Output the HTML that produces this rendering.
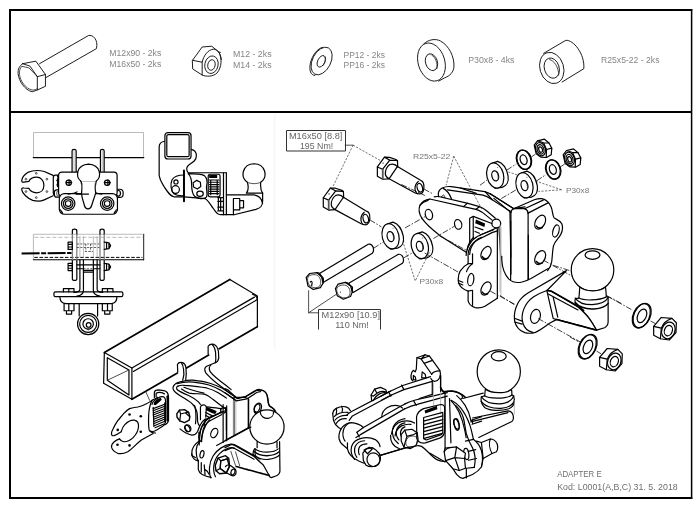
<!DOCTYPE html>
<html><head><meta charset="utf-8"><title>Adapter E</title>
<style>
html,body{margin:0;padding:0;background:#fff;}
body{width:700px;height:508px;overflow:hidden;font-family:"Liberation Sans",sans-serif;}
svg{display:block;position:absolute;left:0;top:0;filter:grayscale(1);}
svg *{vector-effect:non-scaling-stroke;}
.l{fill:none;stroke:#000;stroke-width:1.2;stroke-linecap:round;stroke-linejoin:round;}
.t{fill:none;stroke:#222;stroke-width:.8;stroke-linecap:round;stroke-linejoin:round;}
.w{fill:#fff;stroke:#000;stroke-width:1.2;stroke-linecap:round;stroke-linejoin:round;}
.wt{fill:#fff;stroke:#222;stroke-width:.7;stroke-linejoin:round;}
.d{fill:none;stroke:#222;stroke-width:.7;stroke-dasharray:2.2 1.2;}
.a{fill:none;stroke:#111;stroke-width:.8;stroke-dasharray:6 1.6 1.6 1.6;stroke-linecap:butt;}
.dt{fill:none;stroke:#333;stroke-width:.7;stroke-dasharray:2.2 1.4;stroke-linecap:butt;}
.g{fill:none;stroke:#aaa;stroke-width:.8;}
.k{fill:#000;stroke:none;}
circle,ellipse,rect{stroke-linecap:butt !important;stroke-linejoin:miter !important;}
#topbolt .l,#topnut .l,#topwasher .l,#topthick .l,#topspacer .l{stroke-width:.95;stroke:#111;}
text{font-family:"Liberation Sans",sans-serif;fill:#858585;stroke:none;}
#labels2 text{fill:#666;}#labels3 text{fill:#777;}#labels4 text{fill:#6e6e6e;}
</style></head><body>
<svg width="700" height="508" viewBox="0 0 700 508">
<g id="frame">
<path d="M692.3,10 L10,10 L10,498 L692.3,498" fill="none" stroke="#000" stroke-width="2" stroke-linejoin="miter"/>
<line x1="691.6" y1="9" x2="691.6" y2="499" stroke="#000" stroke-width="1.5"/>
<line x1="10" y1="112" x2="691.6" y2="112" stroke="#000" stroke-width="2"/>
<line id="faint" x1="274.8" y1="114" x2="274.8" y2="350" stroke="#f3f3f3" stroke-width="1"/>
</g>

<g id="topbolt" transform="translate(10,25) scale(0.14771)">
<path class="l" d="M200,262 L530,72 C560,62 600,100 585,160 L245,355"/>
<path class="l" d="M85,262 L175,245 L240,335 L240,415 L185,440 L185,350 L240,335"/>
<path class="l" d="M85,262 C65,275 52,300 55,330 C60,380 100,440 150,452 L185,440"/>
<path class="l" d="M85,262 L135,278 L185,350"/>
<path class="t" d="M80,280 C68,290 62,310 64,335 C70,380 105,430 150,440 C165,442 178,436 185,430"/>
<path class="t" d="M80,280 L128,290 L185,350"/>
</g>

<g id="topnut" transform="translate(180,30) scale(0.14771)">
<path class="l" d="M85,205 L150,115 L215,110 L262,148 C285,190 285,250 250,292 C225,315 180,318 150,305 L88,265 Z"/>
<path class="l" d="M85,205 L150,218 L150,305"/>
<path class="l" d="M150,218 C160,170 190,135 225,130 C255,130 275,160 280,200"/>
<ellipse class="l" cx="213" cy="235" rx="45" ry="60" transform="rotate(12 213 235)"/>
<ellipse class="l" cx="213" cy="237" rx="25" ry="36" transform="rotate(12 213 237)"/>
<path class="t" d="M262,148 L275,152"/>
</g>

<g id="topwasher" transform="translate(290,30) scale(0.14771)">
<ellipse class="l" cx="214" cy="210" rx="62" ry="100" transform="rotate(27 214 210)"/>
<path class="l" d="M222,117 C190,120 150,170 138,225 C128,275 140,305 168,308"/>
<ellipse class="l" cx="212" cy="212" rx="24" ry="42" transform="rotate(27 212 212)"/>
<path class="t" d="M232,180 C245,190 240,215 225,240"/>
</g>
<g id="topthick" transform="translate(400,30) scale(0.14771)">
<ellipse class="l" cx="213" cy="217" rx="90" ry="132" transform="rotate(-17 213 217)"/>
<path class="l" d="M160,95 C190,65 240,55 275,75 C330,105 370,180 365,250 C362,285 340,310 300,325 L262,346"/>
<ellipse class="l" cx="213" cy="218" rx="40" ry="58" transform="rotate(-17 213 218)"/>
<path class="t" d="M215,170 C240,185 255,220 250,262"/>
</g>
<g id="topspacer" transform="translate(520,30) scale(0.14771)">
<ellipse class="l" cx="215" cy="257" rx="80" ry="108" transform="rotate(-17 215 257)"/>
<path class="l" d="M160,158 L310,70 C360,65 440,160 432,262 L285,352"/>
<ellipse class="l" cx="215" cy="258" rx="50" ry="70" transform="rotate(-17 215 258)"/>
<path class="t" d="M200,200 C230,205 262,250 262,305"/>
</g>

<g id="topview">
<!-- beam -->
<path class="g" d="M33.5,157.6 L33.5,132.5 L143.5,132.5 L143.5,157.6"/>
<path class="l" d="M33.3,157.6 L143.8,157.6"/>
<g transform="translate(15,160) scale(0.17725)">
<!-- pins -->
<path class="w" d="M322,70 L322,-52 C322,-63 345,-63 345,-52 L345,70"/>
<path class="g" d="M333,-55 L333,70"/>
<path class="w" d="M482,70 L482,-52 C482,-63 503,-63 503,-52 L503,70"/>
<path class="g" d="M492,-55 L492,70"/>
<!-- socket plate -->
<path class="w" d="M215,87 L165,65 C140,58 100,58 72,70 C52,82 40,100 38,115 C37,124 42,126 50,125 L78,121 C85,105 100,97 122,97 C145,97 163,115 163,142 C163,170 145,185 122,185 C100,185 85,175 78,160 L50,158 C42,157 37,160 38,168 C42,190 70,215 100,228 C125,235 150,232 165,225 L215,202"/>
<circle class="t" cx="120" cy="75" r="5"/><circle class="t" cx="62" cy="108" r="5"/><circle class="t" cx="180" cy="108" r="5"/>
<circle class="t" cx="62" cy="178" r="5"/><circle class="t" cx="180" cy="178" r="5"/><circle class="t" cx="120" cy="212" r="5"/>
<!-- left bracket -->
<path class="w" d="M245,85 L228,85 C220,85 216,92 216,100 L216,185 C216,195 222,200 230,200 L245,200"/>
<path class="k" d="M236,88 L262,76 L262,84 L246,100 L238,100 Z"/>
<path class="l" d="M240,105 L240,150 M236,115 L244,115 M236,140 L244,140"/>
<!-- ears -->
<rect class="w" x="222" y="168" width="36" height="42" rx="14"/>
<rect class="t" x="236" y="176" width="16" height="26" rx="5"/>
<rect class="w" x="562" y="165" width="48" height="46" rx="18"/>
<ellipse class="l" cx="583" cy="188" rx="12" ry="16"/>
<!-- top plate -->
<rect class="w" x="246" y="68" width="330" height="135" rx="18"/>
<!-- lower plate -->
<rect class="w" x="250" y="190" width="328" height="116" rx="28"/>
<path class="l" d="M256,282 L268,298 M572,282 L560,298"/>
<!-- bolts -->
<circle class="l" cx="300" cy="246" r="38"/><circle class="l" cx="300" cy="246" r="27"/><circle class="l" cx="300" cy="246" r="16"/>
<circle class="l" cx="520" cy="246" r="38"/><circle class="l" cx="520" cy="246" r="27"/><circle class="l" cx="520" cy="246" r="16"/>
<!-- cross marks -->
<circle class="l" cx="303" cy="128" r="15"/><path class="l" d="M288,128 L320,128 M305,112 L305,144"/>
<circle class="l" cx="520" cy="128" r="15"/><path class="l" d="M504,128 L538,128 M524,112 L524,144"/>
<!-- ball + tongue -->
<path class="w" d="M372,120 C340,95 345,27 415,23 C485,27 490,95 458,120 C450,122 380,122 372,120 Z"/>
<path class="w" d="M372,120 C380,140 380,160 376,180 C372,200 385,230 392,258 C398,280 425,282 432,258 C440,230 452,200 455,185 C450,160 452,140 458,120"/>
<path class="l" d="M345,192 L415,192 M300,192 C320,190 340,188 350,180 M455,185 C470,190 480,192 490,192"/>
<path class="g" d="M380,130 L380,175 M450,130 L450,175"/>
</g>
</g>

<g id="sideview" transform="translate(150,125) scale(0.1909)">
<!-- bracket outline -->
<path class="l" d="M78,85 C55,88 48,98 48,115 L48,265 C52,290 60,300 75,325 C95,355 105,372 125,376 L178,376"/>
<path class="l" d="M215,128 C235,132 243,142 243,160 C243,185 225,195 205,208 C190,218 188,235 200,250 L400,250"/>
<!-- tube -->
<rect class="w" x="78" y="40" width="137" height="138" rx="16"/>
<rect class="l" x="88" y="50" width="117" height="116" rx="8"/>
<!-- left lobe -->
<path class="l" d="M178,262 C150,262 125,270 115,288 C105,310 110,345 125,360 C140,370 160,372 178,370"/>
<circle class="l" cx="136" cy="298" r="11"/><circle class="l" cx="134" cy="338" r="20"/>
<path class="l" d="M178,238 L178,400" style="stroke-width:2"/>
<!-- plate -->
<path class="l" d="M200,255 C240,255 270,258 285,265 C300,280 302,300 296,320 C294,345 305,365 295,378 C280,392 250,385 235,375 C222,362 218,340 218,310 C218,290 215,270 200,255"/>
<path class="l" d="M245,290 L264,300 L266,322 L248,335 L228,325 L226,302 Z"/>
<ellipse class="l" cx="262" cy="360" rx="17" ry="14"/>
<!-- grill -->
<rect class="l" x="305" y="258" width="62" height="118" rx="10"/>
<rect class="k" x="310" y="262" width="42" height="16" rx="3"/>
<path class="l" d="M312,288 L360,288 M312,300 L360,300 M312,312 L360,312 M312,324 L360,324 M312,336 L360,336 M312,348 L360,348 M312,360 L360,360 M318,288 L318,365 M352,288 L352,365"/>
<!-- verticals -->
<path class="l" d="M385,250 L385,470 M400,250 L400,470"/>
<path class="l" d="M355,380 L385,380 M355,400 L385,400 M355,430 L385,430 M355,450 L385,450 M358,380 L358,450 M370,380 L370,450"/>
<!-- lower -->
<path class="l" d="M178,376 L290,386 C305,395 315,415 330,435 C345,458 352,468 368,470 L440,470 L555,442 C580,435 590,425 590,400 L590,355"/>
<path class="l" d="M400,366 L545,366 C570,370 585,385 590,410"/>
<path class="l" d="M437,385 L470,385 L470,445 L437,445 Z M470,396 L490,396 L490,434 L470,434 M437,385 L437,470"/>
<!-- ball -->
<path class="w" d="M510,300 C470,270 485,205 545,203 C605,205 620,270 580,300 C578,320 578,340 590,357 L505,357 C518,340 516,320 510,300 Z"/>
<path class="t" d="M510,300 C530,310 560,310 580,300"/>
</g>

<g id="frontview" transform="translate(15,222) scale(0.23601)">
<!-- beam -->
<path class="g" d="M78,160 L78,52 L545,52"/>
<path class="g" d="M82,65 L545,65" style="stroke-dasharray:4 2;stroke-linecap:butt"/>
<path class="l" d="M545,52 L545,160" style="stroke:#444"/>
<path class="l" d="M78,160 L545,160"/>
<path class="l" d="M82,150 L540,150" style="stroke-dasharray:3.5 1.6;stroke-linecap:butt;stroke-width:1"/>
<path class="l" d="M28,133 L240,131" style="stroke-width:2;stroke-dasharray:18 1.5 5 1.5;stroke-linecap:butt"/>
<!-- vertical plates -->
<path class="l" d="M243,52 L243,38 C243,28 262,28 262,38 L262,52 M243,160 L243,240 C243,250 262,250 262,240 L262,160"/><path class="l" d="M243,52 L243,160 M262,52 L262,160" style="stroke:#777"/>
<path class="l" d="M360,52 L360,38 C360,28 378,28 378,38 L378,52 M360,160 L360,240 C360,250 378,250 378,240 L378,160"/><path class="l" d="M360,52 L360,160 M378,52 L378,160" style="stroke:#777"/>
<!-- upper bolt -->
<path class="l" d="M225,85 L243,85 L243,116 L225,116 Z M225,95 L243,95 M225,106 L243,106"/>
<path class="l" d="M378,85 L398,88 L405,100 L398,113 L378,116 M398,88 L398,113 M388,86 L388,115"/>
<path class="d" d="M262,93 L360,93 M262,108 L360,108"/>
<path class="g" d="M275,60 L275,150 M290,60 L290,150 M332,60 L332,150 M348,60 L348,150"/>
<path class="d" d="M300,93 L300,125 M320,93 L320,125 M296,125 L330,125"/>
<!-- lower bolt -->
<path class="l" d="M225,175 L243,175 L243,206 L225,206 Z M225,185 L243,185 M225,196 L243,196"/>
<path class="l" d="M378,175 L398,178 L405,190 L398,203 L378,206 M398,178 L398,203 M388,176 L388,205"/>
<path class="l" d="M262,182 L360,182 M262,198 L290,198 M332,198 L360,198"/>
<path class="d" d="M290,198 L332,198"/>
<!-- columns -->
<path class="l" d="M275,160 L275,285 C275,295 265,298 250,298 M290,160 L290,290 C290,305 275,312 262,314"/>
<path class="l" d="M348,160 L348,285 C348,295 358,298 372,298 M332,160 L332,290 C332,305 348,312 360,314"/>
<path class="l" d="M290,205 L332,205 M290,212 L332,212"/>
<!-- flange -->
<rect class="l" x="165" y="296" width="292" height="20" rx="6"/>
<path class="l" d="M205,296 L205,282 L250,282 L250,296 M228,282 L228,296 M370,296 L370,282 L415,282 L415,296 M392,282 L392,296"/>
<path class="l" d="M190,316 C190,335 200,345 215,346 L408,346 C425,345 432,335 432,316"/>
<path class="l" d="M208,346 L208,376 L250,376 L250,346 M228,346 L228,376 M218,376 L218,390 L240,390 L240,376"/>
<path class="l" d="M370,346 L370,376 L412,376 L412,346 M392,346 L392,376 M380,376 L380,390 L402,390 L402,376"/>
<!-- neck + ball -->
<path class="l" d="M272,346 L272,398 M350,346 L350,398"/>
<circle class="w" cx="310" cy="432" r="45"/><circle class="l" cx="310" cy="432" r="36"/><circle class="l" cx="310" cy="432" r="22"/><circle class="l" cx="312" cy="436" r="10"/>
<circle class="t" cx="310" cy="455" r="3"/>
</g>

<g id="iso">
<!-- A: tube -->
<g transform="translate(95,275) scale(0.24602)">
<path class="l" d="M38,315 L548,18" style="stroke-width:1.7"/><path class="l" d="M548,18 L660,85 L660,210"/>
<path class="l" d="M38,315 L150,378 L150,505 L35,440 Z"/>
<path class="l" d="M50,336 L138,386 L138,488 L50,428 Z"/>
<path class="l" d="M150,378 L648,90 M156,392 L660,100"/>
<path class="t" d="M50,428 L138,386"/>
<path class="l" d="M660,210 L505,300 M462,325 L372,378 M335,398 L150,505" style="stroke-width:1.7"/>
<path class="l" d="M640,78 C652,82 660,88 660,100"/>
</g>
<!-- hooks (V8b) -->
<g transform="translate(165,335) scale(0.11817)">
<path class="l" d="M365,160 L365,95 C375,80 395,75 415,80 C435,88 448,110 452,140 L455,195 C452,215 445,228 425,235 L352,265 C335,275 332,295 345,320 C370,350 420,395 480,440 C510,462 540,485 560,500"/>
<path class="l" d="M400,82 C415,95 425,120 428,150 L430,200 C430,215 428,225 425,235"/>
<path class="l" d="M388,255 C372,268 370,285 382,310 C400,335 450,378 520,430 L560,462"/>
<path class="l" d="M108,312 L105,250 C112,235 130,230 148,234 C165,240 175,255 177,275 L180,330 L175,382"/>
<path class="l" d="M140,238 C150,250 155,270 157,290 L160,335 L150,382"/>
</g>
<!-- loop (V8) -->
<g transform="translate(165,370) scale(0.11817)">
<path class="l" d="M150,95 C180,88 210,85 235,86 C290,92 340,100 380,112 C420,125 455,140 485,155 C520,175 560,205 610,242 L677,228"/>
<path class="l" d="M100,116 C140,104 200,98 240,102 C290,108 335,116 372,127 C410,140 440,155 465,168 C500,188 550,222 600,258"/>
<path class="l" d="M110,136 C125,130 145,128 165,130 C230,135 300,142 352,152 C390,162 420,175 442,188 C470,205 495,220 520,238"/>
<path class="l" d="M150,95 C120,100 98,108 85,120 C68,135 62,150 72,170 C82,190 110,208 142,226 C175,245 200,260 222,278 C245,298 262,325 270,355 C278,385 272,420 278,445 C282,460 286,468 292,472"/>
<path class="l" d="M110,136 C98,142 95,152 102,165 C115,180 150,195 200,216 C235,232 262,250 285,272 L300,292"/>
<path class="l" d="M140,160 C165,178 185,190 205,195 C250,202 300,200 340,206 C365,215 385,232 405,248 L500,322"/>
<path class="l" d="M160,146 C200,162 260,180 330,196"/>
<path class="l" d="M250,300 C262,330 262,370 262,410 L258,455"/>
<!-- box -->
<path class="l" d="M300,420 L300,312 C305,300 320,292 335,296 C345,300 350,310 350,318 L345,400"/>
<path class="l" d="M350,312 C400,318 450,322 488,328 C505,332 518,345 520,362 L520,508"/>
<path class="l" d="M340,420 L488,356 M340,420 L330,470 M470,330 C470,345 478,355 490,356"/>
<path class="k" d="M352,312 L420,340 L438,352 L425,372 L400,365 L345,338 Z"/>
<path class="l" d="M345,360 L400,388 M345,385 L370,398"/>
<!-- hex bolt -->
<path class="w" d="M100,372 L122,340 L165,335 L200,358 L210,395 L205,425 L165,445 L125,430 L102,400 Z" style="stroke-width:1.4"/>
<path class="l" d="M122,340 L132,372 L125,430 M132,372 L172,362 L200,358 M172,362 L210,395"/>
<!-- hole below -->
<ellipse class="l" cx="195" cy="492" rx="22" ry="30" transform="rotate(-30 195 492)"/>
</g>
<!-- C: vertical plate etc -->
<g transform="translate(170,340) scale(0.1909)">
<path class="l" d="M335,300 L335,500 M335,300 L392,300 L410,308 L410,462"/>
<path class="g" d="M345,305 L345,500"/>
<path class="l" d="M392,300 L450,266 C470,260 495,262 505,280 C515,300 510,335 520,345 C535,352 545,360 548,372"/>
<ellipse class="l" cx="456" cy="356" rx="14" ry="22" transform="rotate(20 456 356)"/>
<path class="l" d="M445,375 C455,385 470,385 480,370"/>
</g>
<g transform="translate(190,385) scale(0.1181)">
<circle class="w" cx="282" cy="215" r="22"/>
<path class="l" d="M262,230 L150,290 C125,305 105,335 95,365 C85,400 80,450 78,508"/>
<path class="l" d="M270,250 L165,305 C140,320 122,345 112,375 C104,405 100,440 98,480"/>
</g>
</g>

<g id="iso_socket" transform="translate(100,385) scale(0.11817)">
<!-- plate outline -->
<path class="l" d="M490,105 C470,115 455,122 440,130 C420,145 400,155 380,165 C360,175 340,182 320,186 C295,190 270,192 250,200 C230,212 215,225 200,242 C180,265 165,285 150,302 C135,325 120,350 110,372 C100,390 95,402 97,415 C100,428 108,432 120,428 C135,422 165,405 180,395"/>
<path class="l" d="M180,395 C185,370 195,350 210,335 C235,310 265,295 290,298 C315,302 328,325 326,355 C322,390 305,420 280,445 C255,468 225,482 200,480 C185,478 172,468 165,456"/>
<path class="l" d="M165,456 C145,462 130,472 118,482 C100,498 95,512 98,528 C105,550 125,568 150,578 C175,585 205,580 235,565 C262,548 285,525 305,505 C320,490 335,478 350,466 L450,411"/>
<path class="l" d="M440,130 C425,160 415,200 412,250 C410,300 410,350 416,380 C425,398 445,405 470,406"/>
<circle class="k" cx="250" cy="250" r="11"/><circle class="k" cx="345" cy="265" r="11"/>
<circle class="k" cx="150" cy="380" r="11"/><circle class="k" cx="345" cy="395" r="11"/>
<circle class="k" cx="148" cy="506" r="11"/><circle class="k" cx="250" cy="511" r="11"/>
<!-- leader -->
<path class="t" d="M390,62 L420,130"/>
<!-- cover -->
<path class="l" d="M460,105 L460,65 C462,50 475,42 495,42 L540,48 C562,52 578,70 580,100 L580,300 C578,315 570,325 555,335"/>
<path class="l" d="M572,95 L572,300" style="stroke-width:2.2"/>
<path class="l" d="M440,165 C442,145 455,130 490,110 C510,100 535,95 545,105 C552,112 555,125 555,140 L555,310 C552,330 545,340 530,350 L480,380 C460,392 440,398 425,390"/>
<path class="l" d="M475,70 L475,100 M475,70 C490,62 520,62 545,75"/>
<path class="k" d="M455,150 C465,130 490,112 515,108 L522,125 C505,140 485,160 470,172 L455,168 Z"/>
<path class="l" d="M450,200 L548,162 M450,218 L548,180 M450,236 L548,198 M450,254 L548,216 M452,272 L548,234 M454,290 L548,252 M456,308 L548,270 M458,326 L548,288 M460,344 L548,306 M465,362 L540,330" style="stroke-width:1.1"/>
<path class="l" d="M450,190 L456,350 M548,150 L548,310"/>
</g>

<g id="iso_ball">
<g transform="translate(225,385) scale(0.11817)">
<!-- plate top right -->
<path class="l" d="M0,30 C20,35 35,45 45,60 L100,110 L170,100 L250,50 C265,40 280,36 295,38 C325,42 348,60 358,90 C365,115 365,140 370,160 C375,180 385,190 400,195 C415,200 425,210 430,225"/>
<path class="l" d="M0,66 L80,122 L95,135 L185,118 L262,68 C275,60 290,56 302,56"/>
<path class="l" d="M200,120 L200,360 L0,470"/>
<path class="g" d="M70,130 L70,425"/>
<path class="l" d="M0,190 L12,200 L12,470"/>
<ellipse class="l" cx="278" cy="197" rx="28" ry="45" transform="rotate(22 278 197)"/>
<path class="l" d="M250,225 C258,240 272,245 285,240" style="stroke-width:1.8"/>
<!-- ball -->
<circle class="w" cx="355" cy="355" r="145"/>
<path class="l" d="M298,228 C300,265 335,285 365,282 C395,278 412,255 410,232"/>
<!-- neck & collar (y+380.8) -->
<path class="l" d="M272,476 L272,530 M440,482 L440,530"/>
<path class="l" d="M255,540 C275,560 320,568 355,568 C395,566 435,555 450,540"/>
<path class="l" d="M250,565 C275,590 320,598 355,598 C395,596 440,585 456,566" style="stroke-width:1.5"/>
<path class="l" d="M255,596 C280,622 325,632 365,630 C405,626 445,612 462,592"/>
<path class="l" d="M462,480 L465,730 C462,750 450,762 435,768 L392,784 C382,782 376,775 372,766"/>
<path class="l" d="M250,540 C240,555 236,570 238,585 C250,610 280,640 320,672 C340,700 355,735 375,766" />
<path class="l" d="M255,540 L255,600" />
<!-- arm -->
<path class="l" d="M0,530 L50,506 C62,502 72,505 82,512 L250,606 L292,646"/>
<path class="l" d="M0,556 L55,532 C62,530 70,532 78,536 L246,628"/>
<path class="l" d="M95,690 L375,766" style="stroke-width:1.6;stroke-dasharray:3 .6"/>
</g>
<g transform="translate(180,420) scale(0.11817)">
<!-- main plate -->
<path class="l" d="M160,150 C165,100 180,60 198,41 C210,20 225,-5 238,-16 L343,-64 L392,-80"/>
<path class="l" d="M365,-130 L365,190 M395,-120 L395,175"/>
<path class="l" d="M250,0 C235,15 222,35 215,52 C200,80 190,110 185,140 L180,172"/>
<ellipse class="l" cx="290" cy="110" rx="27" ry="42" transform="rotate(25 290 110)"/>
<path class="l" d="M160,105 L160,180 C140,195 125,208 118,220 C105,240 98,262 100,285 C102,310 115,330 135,340 L155,346"/>
<path class="l" d="M180,172 C165,185 152,200 145,215 C135,240 135,275 140,300 C142,320 148,335 155,346"/>
<path class="l" d="M100,300 L130,318 M100,285 L100,302"/>
<ellipse class="l" cx="186" cy="290" rx="16" ry="32" transform="rotate(12 186 290)"/>
<path class="l" d="M155,346 L155,420 C160,440 172,452 188,462 C205,472 230,482 262,486"/>
<path class="l" d="M180,360 L180,440 M205,380 L212,462 M212,420 C225,425 238,440 245,458"/>
<!-- flange ring -->
<path class="l" d="M262,490 C250,470 248,430 250,400 C252,365 262,335 280,305 C295,280 318,255 345,238 C370,222 400,208 430,204 C450,202 465,208 480,218 L677,330"/>
<path class="l" d="M300,480 C285,450 282,410 288,375 C295,340 310,310 335,285 C355,265 380,248 410,238 C430,232 445,232 458,238"/>
<path class="l" d="M310,215 L600,60"/>
<!-- nut -->
<path class="w" d="M298,385 L322,322 L385,302 L412,325 L420,390 L392,448 L335,455 L305,430 Z" style="stroke-width:1.4"/>
<path class="l" d="M322,322 L345,345 L340,410 L305,430 M345,345 L400,328 M340,410 L392,448"/>
<path class="l" d="M345,345 L400,330 L418,392 L392,448 L340,410 Z" style="stroke-width:1.3"/>
<!-- stud -->
<path class="l" d="M385,395 C395,380 415,378 430,388 L462,410 C475,420 478,445 470,460 C462,472 445,475 432,468 L400,450"/>
<ellipse class="l" cx="448" cy="440" rx="16" ry="25" transform="rotate(20 448 440)"/>
<path class="t" d="M430,265 L470,385 M470,270 L505,388"/>
<!-- upper left: link plate lower part -->
<path class="l" d="M0,75 C30,100 60,120 100,128 C125,128 140,115 150,95 C160,70 165,45 185,20 C195,8 205,0 215,-8"/>
<ellipse class="l" cx="62" cy="72" rx="20" ry="30" transform="rotate(-30 62 72)"/>
</g>
</g>

<g id="expl_bolts">
<!-- label box 1 -->
<rect x="286.5" y="130.5" width="59" height="20.5" fill="none" stroke="#333" stroke-width="1"/>
<g transform="translate(280,120) scale(0.17725)">
<path class="t" d="M368,142 L412,142"/>
<path class="dt" d="M412,142 L565,228 M412,142 L300,372"/>
</g>
<!-- short bolts (G1) -->
<g transform="translate(370,150) scale(0.08863)">
<g id="sbolt">
<path class="w" d="M310,185 L575,345 C595,350 610,385 608,425 C606,465 590,492 560,496 C540,496 520,490 510,485 L215,325 Z"/>
<ellipse class="l" cx="562" cy="426" rx="30" ry="50" transform="rotate(-15 562 426)"/>
<path class="l" d="M545,355 C520,375 505,410 508,445 C510,470 520,485 535,492"/>
<path class="w" d="M83,191 L163,81 L220,83 L293,107 L310,121 L313,191 C290,160 250,155 223,164 C195,185 172,230 173,270 C175,295 185,310 215,325 L143,330 L83,295 Z"/>
<path class="l" d="M83,191 L143,217 L143,330 M143,217 L223,114 L163,81 M223,114 L295,118 L310,125"/>
<path class="l" d="M143,217 L143,330" style="stroke-width:1.6;stroke:#555"/>
<circle class="k" cx="148" cy="148" r="7"/>
</g>
<use href="#sbolt" transform="translate(-610,348)"/>
<path class="a" d="M608,440 L700,490 M-2,788 L129,868"/>
</g>
<!-- long bolts (E3) -->
<g transform="translate(300,215) scale(0.17725)">
<path class="w" d="M110,330 L385,165 C400,160 415,175 415,195 C415,205 412,212 408,216 L135,378 Z"/>
<path class="w" d="M35,352 L55,330 L95,325 L122,350 L130,385 L115,410 L75,420 L45,400 Z"/>
<path class="l" d="M95,325 L108,328 L132,358 L130,385"/>
<path class="t" d="M45,350 C55,335 85,332 100,342 C118,355 122,385 110,402 C95,415 65,412 52,395 C42,380 40,362 45,350"/>
<path class="l" d="M58,378 C62,372 70,375 68,385 L66,398"/>
<path class="w" d="M275,385 L555,222 C570,218 585,235 584,255 C584,262 582,268 578,272 L300,437 Z"/>
<path class="w" d="M200,415 L215,390 L255,380 L285,400 L295,435 L285,460 L245,475 L210,455 Z"/>
<path class="l" d="M255,380 L268,383 L296,408 L295,435"/>
<path class="t" d="M208,412 C218,395 248,390 265,400 C283,412 288,442 276,458 C262,472 232,470 218,452 C208,438 204,424 208,412"/>
<circle class="k" cx="228" cy="435" r="3"/>
<path class="a" d="M415,188 L470,152 M585,242 L640,210"/>
</g>
<!-- label box 2 + leaders (E4) -->
<path d="M318.5,329.5 L318.5,309.5 L380.5,309.5 L380.5,329.5" fill="none" stroke="#333" stroke-width="1"/>
<g transform="translate(290,280) scale(0.17725)">
<path class="t" d="M105,60 L105,185 L162,185 M105,185 L262,80"/>
</g>
</g>

<g id="expl_hw">
<defs>
<g id="thickw">
<path class="w" d="M100,205 C130,215 150,245 158,285 C164,320 150,345 125,352 L85,357 L70,215 Z"/>
<ellipse class="w" cx="86" cy="285" rx="47" ry="72" transform="rotate(-14 86 285)"/>
<ellipse class="l" cx="86" cy="287" rx="19" ry="29" transform="rotate(-14 86 287)"/>
<path class="t" d="M90,262 C100,268 105,285 102,305"/>
<circle class="k" cx="100" cy="240" r="2.5"/>
</g>
<g id="thinw">
<ellipse class="w" cx="250" cy="196" rx="40" ry="56" transform="rotate(-18 250 196)"/>
<ellipse class="l" cx="246" cy="196" rx="40" ry="56" transform="rotate(-18 246 196)"/>
<ellipse class="l" cx="246" cy="196" rx="19" ry="28" transform="rotate(-18 246 196)"/>
</g>
<g id="nutA">
<path class="w" d="M92,152 L125,108 L195,92 L240,130 L268,182 L262,248 L215,275 L160,272 L112,238 Z" style="stroke-width:1.2"/>
<path class="l" d="M125,108 L185,128 L215,195 L212,272 M215,195 L268,182 M185,128 L240,130"/>
<ellipse class="l" cx="155" cy="192" rx="48" ry="68" transform="rotate(-18 155 192)"/>
<ellipse class="l" cx="155" cy="194" rx="33" ry="48" transform="rotate(-18 155 194)"/>
<ellipse class="l" cx="156" cy="196" rx="18" ry="28" transform="rotate(-18 156 196)"/>
</g>
<g id="nutB">
<path class="w" d="M472,205 L515,155 L575,160 L600,185 L598,240 L560,282 L510,275 L472,255 Z" style="stroke-width:1.2"/>
<path class="l" d="M472,205 L515,215 L510,275 M515,215 C525,190 545,170 575,160"/>
<ellipse class="l" cx="555" cy="228" rx="37" ry="48" transform="rotate(20 555 228)"/>
<ellipse class="l" cx="555" cy="229" rx="22" ry="30" transform="rotate(20 555 229)"/>
</g>
<g id="thinw2">
<ellipse class="w" cx="402" cy="146" rx="46" ry="72" transform="rotate(24 402 146)"/>
<ellipse class="l" cx="407" cy="144" rx="46" ry="72" transform="rotate(24 407 144)"/>
<ellipse class="l" cx="406" cy="146" rx="24" ry="40" transform="rotate(24 406 146)"/>
</g>
</defs>
<!-- top right hardware (E10) -->
<g transform="translate(480,125) scale(0.17725)">
<path class="a" d="M0,340 L40,310 M150,255 L205,220 M290,180 L312,165 M120,415 L205,365 M320,315 L372,280 M455,235 L478,220"/>
<path class="dt" d="M460,365 L330,375 M460,365 L160,265"/>
<use href="#thickw"/>
<use href="#thickw" transform="translate(165,55)"/>
<use href="#thinw"/>
<use href="#thinw" transform="translate(165,55)"/>
</g>
<g transform="translate(525,130) scale(0.1)">
<use href="#nutA"/>
<use href="#nutA" transform="translate(290,97)"/>
</g>
<!-- bottom right hardware (E12) -->
<g transform="translate(570,290) scale(0.17725)">
<path class="a" d="M210,35 L355,115 M455,175 L482,190 M0,265 L48,292 M150,345 L176,360"/>
<use href="#thinw2"/>
<use href="#thinw2" transform="translate(-305,175)"/>
<use href="#nutB"/>
<use href="#nutB" transform="translate(-305,175)"/>
</g>
<!-- washers near bolts (E3) -->
<g transform="translate(300,215) scale(0.17725)">
<use href="#thickw" transform="translate(425,-165)"/>
<use href="#thickw" transform="translate(590,-110)"/>
<path class="dt" d="M585,165 L650,372 L735,200"/>
</g>
</g>

<g id="expl_bracket">
<!-- E6: U bracket near/far plates -->
<g transform="translate(405,165) scale(0.17725)">
<!-- far plate top -->
<path class="l" d="M190,178 C185,160 192,140 210,130 C225,122 245,120 262,122 L450,150 C470,155 485,165 500,175 L612,246 L677,236"/>
<path class="l" d="M240,140 L440,170 C460,175 475,185 490,195 L592,260"/>
<path class="l" d="M215,132 C232,140 250,160 262,190 M312,130 L402,160 M452,150 L492,196"/>
<path class="t" d="M205,178 L218,168 L226,182 Z"/>
<!-- near plate -->
<path class="l" d="M140,192 C115,195 95,208 84,228 C75,250 80,275 95,300 C115,330 160,370 200,400 L345,492"/>
<path class="l" d="M140,192 L330,235 L400,250 C415,254 425,260 435,266 L500,318"/>
<path class="l" d="M165,180 C175,177 185,177 195,179 L350,215 L420,235 C435,240 450,250 460,258 L510,300"/>
<path class="l" d="M84,228 C95,215 110,205 130,200 M330,235 L352,216 M400,250 L420,235"/>
<ellipse class="l" cx="135" cy="280" rx="20" ry="30" transform="rotate(-15 135 280)"/>
<ellipse class="l" cx="300" cy="335" rx="20" ry="28" transform="rotate(-15 300 335)"/>
<!-- pin -->
<circle class="w" cx="515" cy="330" r="25"/>
<path class="l" d="M530,352 L540,520 M515,355 L420,398"/>
<!-- box -->
<path class="l" d="M365,440 L365,300 L385,290 L490,330"/>
<path class="k" d="M400,308 L452,330 L448,350 L396,328 Z"/>
<path class="l" d="M395,350 L440,366 M395,375 L420,385 M385,295 L385,420"/>
<!-- lower plate rounded -->
<path class="l" d="M345,510 C345,480 355,455 380,425 C395,410 410,400 430,392 L500,365"/>
<path class="l" d="M365,505 C365,480 375,455 395,432 C405,420 420,412 432,408"/>
<!-- right vertical from far plate -->
<path class="l" d="M592,260 L597,520"/>
<!-- leader dotted from R25x5-22 -->
<path class="dt" d="M275,-50 L232,114 M275,-50 L433,249"/>
<!-- axes -->
<path class="a" d="M0,355 L115,290 M160,415 L280,345 M-20,110 L112,172"/>
</g>
<!-- E7: center plate -->
<g transform="translate(430,230) scale(0.17725)">
<path class="l" d="M380,-8 L380,385"/>
<path class="g" d="M400,-20 L400,370"/>
<path class="l" d="M380,5 L350,15 L270,55 C250,65 235,80 225,100 C218,115 215,125 215,135 L215,190 C195,200 180,215 170,232 C160,250 158,280 162,300 C168,320 185,335 215,345 L215,400 C220,420 235,432 255,438 C275,442 295,438 310,430 L380,385"/>
<path class="l" d="M245,42 C225,60 215,80 210,110 M240,135 L240,190 C225,200 212,215 206,235 M240,340 L240,425 M215,190 L240,190 M215,345 L240,340"/>
<path class="l" d="M160,285 L185,295 M160,300 L185,310"/>
<ellipse class="l" cx="230" cy="280" rx="17" ry="35" transform="rotate(8 230 280)"/>
<ellipse class="l" cx="316" cy="130" rx="25" ry="40" transform="rotate(28 316 130)"/>
<ellipse class="l" cx="316" cy="330" rx="25" ry="40" transform="rotate(28 316 330)"/>
<path class="l" d="M295,150 C300,160 312,165 325,160 M295,350 C300,360 312,365 325,360" style="stroke-width:1.5"/>
<path class="a" d="M340,345 L480,420 M-30,130 L160,238 M50,30 L215,120"/>
</g>
</g>

<g id="expl_block">
<!-- E8: right block -->
<g transform="translate(490,175) scale(0.17725)">
<path class="l" d="M118,210 L118,560 M215,215 L215,590"/>
<path class="l" d="M118,210 C120,198 128,190 140,188 L195,190 C208,195 214,205 215,215"/>
<path class="l" d="M140,188 L250,140 C265,134 280,132 292,133 C315,138 335,155 345,180 C355,205 352,230 362,242 C375,252 395,255 405,275 C412,295 408,320 398,338 C385,360 365,375 358,400 C352,430 352,460 348,490 C345,510 338,525 325,540"/>
<path class="l" d="M215,215 L330,156 M195,190 L300,142"/>
<path class="l" d="M0,105 L135,190 M22,132 L118,212"/>
<ellipse class="l" cx="283" cy="266" rx="27" ry="42" transform="rotate(28 283 266)"/>
<ellipse class="l" cx="372" cy="316" rx="17" ry="35" transform="rotate(15 372 316)"/>
<ellipse class="l" cx="283" cy="466" rx="27" ry="42" transform="rotate(28 283 466)"/>
<path class="l" d="M262,288 C268,298 282,302 295,296 M262,488 C268,498 282,502 295,496" style="stroke-width:1.5"/>
<!-- pin + gray line -->
<path class="g" d="M60,292 L60,560"/>
<path class="a" d="M300,480 L560,625"/>
</g>
<!-- E9: block bottom + ball mount -->
<g transform="translate(500,260) scale(0.17725)">
<path class="l" d="M10,-20 L10,0 C12,40 25,80 50,108 C70,125 100,130 125,124 C145,120 160,112 175,104 L272,48"/>
<path class="l" d="M60,-220 L60,112 M160,-140 L160,110"/>
<path class="g" d="M0,-200 L0,180"/>
<!-- ball -->
<circle class="w" cx="522" cy="56" r="120"/>
<ellipse class="l" cx="522" cy="-28" rx="42" ry="24"/>
<path class="w" d="M450,152 C448,175 448,195 445,215 L425,218 C420,235 422,250 440,265 C470,290 500,320 520,355 L545,396 L590,382 C602,375 610,362 610,348 L610,210 L600,205 C598,190 598,170 595,152 C570,180 480,182 450,152 Z"/>
<path class="l" d="M425,215 C440,240 480,252 520,252 C560,250 598,235 610,212"/>
<path class="l" d="M425,240 C445,265 485,278 530,276 C565,274 598,262 610,245" style="stroke-width:1.5"/>
<path class="l" d="M445,215 C470,230 560,230 600,208"/>
<!-- flange -->
<path class="w" d="M375,60 L160,185 C135,200 115,218 100,245 C85,275 78,310 82,340 C88,372 108,398 140,410 C160,415 180,414 200,408 C225,398 255,375 282,355 L320,335 L545,396 L520,355 C500,320 470,290 440,265 L290,176 L265,172 Z"/>
<path class="l" d="M265,172 C235,182 210,195 190,208 C165,225 145,250 133,280 C124,305 122,335 130,358 C138,385 158,402 185,408"/>
<path class="l" d="M265,172 L290,176 L450,266 L472,286" style="stroke-width:1.6"/>
<path class="l" d="M272,192 L440,282"/>
<path class="l" d="M265,175 L300,330 L320,336 M300,210 L326,322"/>
<path class="l" d="M320,336 L545,396" style="stroke-width:1.6;stroke-dasharray:3 .6"/>
<ellipse class="l" cx="200" cy="318" rx="27" ry="40" transform="rotate(15 200 318)"/>
<path class="l" d="M85,330 L125,345 M82,350 L125,362"/>
<path class="a" d="M0,200 L85,255 M215,330 L452,462 M600,200 L690,248 M300,30 L400,62"/>
</g>
</g>

<g id="iso2">
<!-- H1: hook bracket top -->
<g transform="translate(385,340) scale(0.11817)">
<path class="l" d="M235,345 C222,335 218,320 220,300 C222,280 226,268 240,256 L255,270 L265,245 L270,150 L340,125 L375,135 L465,260 C472,280 472,300 462,320 C452,338 435,350 418,350 C405,348 395,340 388,325"/>
<path class="l" d="M270,150 L305,160 L395,290 M340,125 L305,160 M375,135 L305,160 M330,198 L402,172"/>
<path class="l" d="M395,290 C405,272 430,262 462,262"/>
<path class="l" d="M240,300 L255,310 L262,340 L240,335 Z M315,270 L340,290 L347,320 L310,320 Z"/>
<path class="l" d="M385,310 L150,385 L30,440 L-40,478"/>
<path class="l" d="M400,350 L160,420 L40,472 L-30,510"/>
<path class="l" d="M140,382 L160,420 M30,440 L50,475"/>
<path class="l" d="M400,350 L400,460 M470,300 L470,400"/>
<path class="l" d="M470,400 C480,420 490,440 500,442 C520,435 545,430 570,432 C610,438 650,458 680,485" style="stroke-width:1.6"/>
<path class="l" d="M400,460 L290,495"/>
</g>
<!-- H2: plates and bolts -->
<g transform="translate(325,385) scale(0.11817)">
<path class="l" d="M555,52 L225,225 C205,235 190,248 180,258"/>
<path class="l" d="M565,85 L232,262 L205,300"/>
<!-- far bolt head -->
<path class="w" d="M390,85 L420,35 L470,20 L515,40 L522,68 C480,55 430,85 408,130 L395,132 Z"/>
<path class="l" d="M420,35 L440,70 M440,70 C460,55 490,50 520,60 M390,85 L408,95 L440,70"/>
<!-- near plate -->
<path class="l" d="M677,160 L640,180 L325,360 L270,400"/>
<path class="l" d="M677,200 L300,420 L262,445"/>
<path class="l" d="M325,360 C300,335 260,320 220,318 C190,320 165,335 145,358 C125,385 115,420 118,450 C122,475 135,495 155,510 L190,540"/>
<path class="l" d="M205,322 C180,335 162,358 155,385 C148,415 152,450 170,475"/>
<path class="l" d="M270,400 L290,440"/>
<!-- left bolt end -->
<path class="l" d="M65,240 C70,220 80,205 95,198 C120,185 150,178 178,185 C195,190 208,202 215,218"/>
<path class="l" d="M65,240 L72,300 C80,325 95,345 115,360 L135,372"/>
<path class="l" d="M78,268 C95,245 140,225 195,232 M84,298 C100,272 145,252 190,258 M95,326 C110,300 145,282 180,285"/>
<path class="l" d="M95,198 C100,215 100,230 95,250 M140,180 C150,195 150,210 145,225"/>
<!-- right boss -->
<path class="l" d="M480,272 C480,240 495,212 525,192 C555,175 600,168 635,180 L655,195"/>
<!-- lower right concentric arcs -->
<path class="l" d="M677,285 C640,290 600,315 580,350 C565,385 570,430 590,465 L620,495"/>
<path class="l" d="M677,320 C650,325 620,345 608,375 C598,405 605,440 625,465"/>
<path class="l" d="M677,355 C660,360 645,375 640,395 C636,415 642,435 655,448"/>
<!-- bottom-left bolt head (y+380.8) -->
<path class="l" d="M190,490 L190,540 C195,565 205,580 218,595 C235,615 260,630 290,645 L330,662"/>
<path class="l" d="M250,630 C225,600 215,560 225,520 C235,490 265,462 305,452 C345,442 390,445 425,462 C448,478 462,500 466,522"/>
<path class="l" d="M270,612 C250,585 245,550 255,520 C268,492 300,475 335,472 M290,590 C280,565 282,540 295,520 C310,505 330,498 355,498"/>
<path class="w" d="M320,576 L350,540 L400,530 L425,545 L460,580 C470,600 470,630 462,650 C450,675 425,690 400,692 C375,692 355,685 348,680 L325,640 Z"/>
<path class="l" d="M330,550 L375,526 L400,542 L360,582 Z"/>
<ellipse class="l" cx="410" cy="632" rx="55" ry="58" transform="rotate(-20 410 632)"/>
<path class="l" d="M470,596 L690,528"/>
</g>
</g>

<g id="iso2b">
<!-- F2: [325,400] -->
<g transform="translate(325,400) scale(0.17725)">
<path class="l" d="M451,22 C470,12 490,5 510,0 L600,-20 L690,-42"/>
<path class="l" d="M451,49 C480,35 505,28 520,25 L690,-22"/>
<path class="l" d="M500,5 L515,30"/>
<!-- center bolt head -->
<path class="l" d="M375,192 C378,165 390,145 412,130 C440,115 478,112 505,130"/>
<path class="l" d="M395,202 C398,178 410,158 432,146 C450,138 470,135 485,138"/>
<path class="l" d="M370,200 C368,235 385,262 420,275"/>
<path class="w" d="M430,195 L450,170 L490,165 L520,185 L525,220 L515,255 L480,275 L445,265 L430,232 Z"/>
<path class="l" d="M450,170 L462,205 L445,265 M462,205 L500,195 L520,185"/>
<path class="t" d="M465,215 C480,200 505,200 518,212 C525,230 520,250 505,262 C490,270 470,268 460,258 C452,245 455,228 465,215"/>
<!-- bottom edge -->
<path class="l" d="M310,312 L450,272 L520,258 C540,255 550,262 562,275 L600,312 C620,332 635,342 655,345 L690,346"/>
</g>
<!-- F3: [430,340] -->
<g transform="translate(430,340) scale(0.17725)">
<!-- left structures -->
<path class="l" d="M60,200 L60,292 M60,270 C65,285 72,290 85,290 L130,290 C150,292 168,300 178,310 C186,320 185,330 172,335"/>
<path class="l" d="M85,300 L85,610 M110,330 L118,580"/>
<path class="g" d="M20,240 L20,370 M60,292 L60,420"/>
<path class="l" d="M120,340 C140,350 158,365 172,382 C195,410 212,445 225,480 C235,510 240,540 245,560"/>
<!-- arm -->
<path class="l" d="M185,330 L300,300"/>
<path class="l" d="M240,440 L440,400 C455,402 468,415 470,430 C472,445 468,455 462,460 L275,550"/>
<path class="l" d="M240,450 L240,470 M230,462 L440,410" />
<!-- ball -->
<circle class="w" cx="388" cy="178" r="122"/>
<ellipse class="l" cx="388" cy="92" rx="42" ry="26"/>
<path class="w" d="M312,278 C310,295 310,305 308,315 L290,320 C285,345 290,365 310,382 C340,400 400,402 445,388 C468,378 478,360 476,338 L472,315 L462,310 C462,300 462,290 460,280 C430,302 350,305 312,278 Z"/>
<path class="l" d="M290,320 C305,345 345,360 390,360 C430,358 462,342 472,315"/>
<path class="l" d="M288,345 C305,372 350,388 400,386 C440,382 470,365 476,340"/>
<path class="l" d="M308,315 C330,332 430,335 462,310"/>
<path class="g" d="M476,340 L476,420"/>
</g>
<!-- F4: [430,400] -->
<g transform="translate(430,400) scale(0.17725)">
<ellipse class="l" cx="150" cy="135" rx="14" ry="30" transform="rotate(-12 150 135)"/>
<path class="l" d="M245,222 C262,235 280,255 290,285 C298,315 298,350 290,378 C275,400 255,412 240,420 L185,442 C170,440 160,432 150,420 L100,342"/>
<path class="l" d="M145,30 C165,50 180,75 188,100 C196,130 198,160 205,190 C212,215 225,245 240,270 C255,300 258,340 250,380"/>
<path class="l" d="M200,232 L245,222 M215,290 L258,280 M218,340 L262,330 M205,385 L250,380 M205,385 L205,440"/>
<ellipse class="l" cx="205" cy="305" rx="14" ry="32" transform="rotate(-8 205 305)"/>
<!-- bolt head bottom-left -->
<path class="w" d="M85,272 L150,265 L200,300 L195,330 L200,385 L165,398 L130,388 L88,342 L80,292 Z"/>
<path class="l" d="M150,265 L140,325 L165,398 M140,325 L88,342 M140,325 L195,330"/>
<path class="l" d="M80,292 C90,275 100,270 115,268"/>
<!-- nut right -->
<path class="l" d="M262,232 L290,240 L340,220 C355,220 370,230 378,245 C384,262 382,280 375,292 L350,302 L300,330 L290,378"/>
<path class="l" d="M290,240 L300,330 M340,220 C332,240 335,275 350,302"/>
<path class="l" d="M0,300 L85,350"/>
</g>
<g transform="translate(400,385) scale(0.11817)">
<path class="l" d="M140,270 C145,240 165,215 200,200 L345,165 C365,165 378,175 378,195 L378,390 C375,420 360,440 335,450 L215,490 C180,495 150,480 142,450 Z"/>
<path class="k" d="M208,215 L312,175 L316,205 L214,242 Z"/>
<path class="l" d="M200,275 L200,455 L222,465 L350,420 L362,405 L362,232 Z"/>
<path class="l" d="M200,305 L362,262 M200,335 L362,292 M200,365 L362,322 M200,395 L362,352 M200,425 L362,382 M205,452 L358,410" style="stroke-width:1.3"/>
<ellipse class="l" cx="478" cy="335" rx="20" ry="50" transform="rotate(-15 478 335)"/>
<path class="l" d="M430,130 C455,155 480,190 500,230 C520,275 535,320 545,370 C552,400 556,420 560,445"/>
<path class="l" d="M480,90 C505,110 530,140 550,170 C575,210 592,260 600,300"/>
<path class="l" d="M600,300 L690,268 M610,332 L690,306"/>
</g>
</g>

<g id="labels" font-size="8.3">
<text x="109.3" y="55.5" textLength="52" lengthAdjust="spacingAndGlyphs">M12x90 - 2ks</text>
<text x="109.3" y="67" textLength="52" lengthAdjust="spacingAndGlyphs">M16x50 - 2ks</text>
<text x="232.9" y="57.2" textLength="38.7" lengthAdjust="spacingAndGlyphs">M12 - 2ks</text>
<text x="232.9" y="67.8" textLength="38.7" lengthAdjust="spacingAndGlyphs">M14 - 2ks</text>
<text x="343.5" y="57.6" textLength="41.5" lengthAdjust="spacingAndGlyphs">PP12 - 2ks</text>
<text x="343.5" y="67.7" textLength="41.5" lengthAdjust="spacingAndGlyphs">PP16 - 2ks</text>
<text x="468.2" y="62.6" textLength="46.3" lengthAdjust="spacingAndGlyphs">P30x8 - 4ks</text>
<text x="601" y="62.6" textLength="58.5" lengthAdjust="spacingAndGlyphs">R25x5-22 - 2ks</text>
</g>
<g id="labels2" font-size="8.6" style="fill:#666">
<text x="288.9" y="139.1" textLength="53.5" lengthAdjust="spacingAndGlyphs">M16x50 [8.8]</text>
<text x="299.9" y="148.7" textLength="33.3" lengthAdjust="spacingAndGlyphs">195 Nm!</text>
<text x="321.6" y="317.6" textLength="58.4" lengthAdjust="spacingAndGlyphs">M12x90 [10.9]</text>
<text x="335.2" y="327.9" textLength="33.7" lengthAdjust="spacingAndGlyphs">110 Nm!</text>
</g>
<g id="labels3" font-size="8" style="fill:#777">
<text x="412.9" y="159.3" textLength="37.5" lengthAdjust="spacingAndGlyphs">R25x5-22</text>
<text x="566" y="193.4" textLength="23.3" lengthAdjust="spacingAndGlyphs">P30x8</text>
<text x="419.4" y="284.1" textLength="23.8" lengthAdjust="spacingAndGlyphs">P30x8</text>
</g>
<g id="labels4" font-size="9.4" style="fill:#707070">
<text x="557.2" y="476.8" textLength="44.5" lengthAdjust="spacingAndGlyphs">ADAPTER E</text>
<text x="557.2" y="490.3" textLength="120.5" lengthAdjust="spacingAndGlyphs">Kod: L0001(A,B,C)  31. 5. 2018</text>
</g>

</svg>
</body></html>
